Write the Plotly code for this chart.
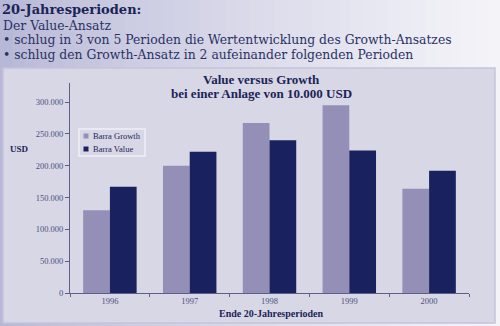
import plotly.graph_objects as go

# Data
years = ["1996", "1997", "1998", "1999", "2000"]
growth = [130000, 200000, 267000, 295000, 164000]
value = [167000, 222000, 240000, 224000, 192000]
series_names = ["Barra Growth", "Barra Value"]
series_colors = ["#948fb6", "#19225e"]

W, H = 500, 326
ML, MR, MT, MB = 70, 31, 83, 33
PW, PH = W - ML - MR, H - MT - MB

NAVY = "#1c2456"
TICK = "#4b5080"
SERIF = "Liberation Serif, DejaVu Serif, serif"
WIDE_SERIF = "DejaVu Serif, Liberation Serif, serif"


def px(x):
    return (x - ML) / PW


def py(y):
    return (H - MB - y) / PH


def hexmix(c1, c2, t):
    a = [int(c1[i:i + 2], 16) for i in (1, 3, 5)]
    b = [int(c2[i:i + 2], 16) for i in (1, 3, 5)]
    return "#" + "".join(f"{round(a[k] + (b[k] - a[k]) * t):02x}" for k in range(3))


fig = go.Figure()
for name, vals, col in zip(series_names, [growth, value], series_colors):
    fig.add_trace(go.Bar(name=name, x=years, y=vals, marker_color=col,
                         marker_line_width=0))

shapes = []
# soft lavender backdrop fading to white on the right
N = 40
for i in range(N):
    x0 = W * i / N
    x1 = W * (i + 1) / N + 1
    t = (i / (N - 1)) ** 0.8
    shapes.append(dict(type="rect", xref="paper", yref="paper", layer="below",
                       x0=px(x0), x1=px(x1), y0=py(H), y1=py(0), line_width=0,
                       fillcolor=hexmix("#b7b7d7", "#f4f4f8", t)))
# chart panel
shapes.append(dict(type="rect", xref="paper", yref="paper", layer="below",
                   x0=px(3), x1=px(495), y0=py(323), y1=py(68),
                   line=dict(color="#c4c3da", width=1.5), fillcolor="#d8d7e6"))

# compact legend box
shapes.append(dict(type="rect", xref="paper", yref="paper",
                   x0=px(79), x1=px(145), y0=py(156), y1=py(129),
                   line=dict(color="#f0f0f8", width=1.5), fillcolor="#d8d7e6"))
legend_rows = [136, 149]
for (name, col), ry in zip(zip(series_names, series_colors), legend_rows):
    shapes.append(dict(type="rect", xref="paper", yref="paper",
                       x0=px(83.5), x1=px(88.5), y0=py(ry + 2.5), y1=py(ry - 2.5),
                       line_width=0, fillcolor=col))

BODY = dict(size=12.4, color="#2a3163", family=WIDE_SERIF)
annotations = [
    dict(text="<b>20-Jahresperioden:</b>", x=px(1), y=py(0.5), xanchor="left", yanchor="top",
         font=dict(size=13, color=NAVY, family=WIDE_SERIF)),
    dict(text="Der Value-Ansatz", x=px(2), y=py(25), xanchor="left", yanchor="middle",
         font=BODY),
    dict(text="• schlug in 3 von 5 Perioden die Wertentwicklung des Growth-Ansatzes",
         x=px(2), y=py(39.5), xanchor="left", yanchor="middle", font=BODY),
    dict(text="• schlug den Growth-Ansatz in 2 aufeinander folgenden Perioden",
         x=px(2), y=py(54), xanchor="left", yanchor="middle", font=BODY),
    dict(text="<b>Value versus Growth</b>", x=px(261), y=py(79), xanchor="center",
         yanchor="middle", font=dict(size=13, color=NAVY, family=SERIF)),
    dict(text="<b>bei einer Anlage von 10.000 USD</b>", x=px(261), y=py(93), xanchor="center",
         yanchor="middle", font=dict(size=13, color=NAVY, family=SERIF)),
    dict(text="<b>USD</b>", x=px(19), y=py(149), xanchor="center", yanchor="middle",
         font=dict(size=9, color=NAVY, family=SERIF)),
    dict(text="<b>Ende 20-Jahresperioden</b>", x=px(271), y=py(313), xanchor="center",
         yanchor="middle", font=dict(size=10, color=NAVY, family=SERIF)),
]
for name, ry in zip(series_names, legend_rows):
    annotations.append(dict(text=name, x=px(91.5), y=py(ry), xanchor="left",
                            yanchor="middle",
                            font=dict(size=8.5, color=NAVY, family=SERIF)))
for a in annotations:
    a.update(xref="paper", yref="paper", showarrow=False, borderpad=0)

fig.update_layout(
    width=W, height=H,
    margin=dict(l=ML, r=MR, t=MT, b=MB, pad=0),
    paper_bgcolor="#d8d7e6",
    plot_bgcolor="rgba(0,0,0,0)",
    barmode="group", bargap=0.33, bargroupgap=0,
    separators=",.",
    shapes=shapes,
    annotations=annotations,
    showlegend=False,
    xaxis=dict(showline=True, linecolor="#5c6088", linewidth=1, showgrid=False,
               ticks="outside", tickson="boundaries", ticklen=3, tickcolor="#5c6088",
               tickfont=dict(size=8.5, color=TICK, family=SERIF)),
    yaxis=dict(range=[0, 330000], tickvals=[0, 50000, 100000, 150000, 200000, 250000, 300000],
               tickformat=",d", showline=True, linecolor="#5c6088", linewidth=1,
               showgrid=False, zeroline=False, ticks="outside", ticklen=4,
               tickcolor="#5c6088", tickfont=dict(size=8.5, color=TICK, family=SERIF)),
)

fig.write_html("out.html")
